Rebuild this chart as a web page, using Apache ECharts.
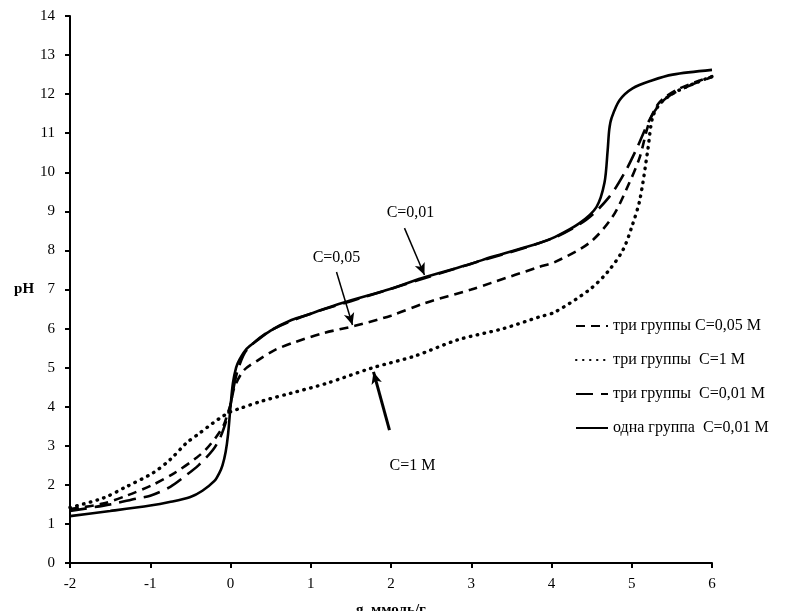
<!DOCTYPE html>
<html><head><meta charset="utf-8">
<script src="https://cdn.jsdelivr.net/npm/echarts@6/dist/echarts.min.js"></script>
<style>html,body{margin:0;padding:0;background:#fff}#c{width:798px;height:611px}</style>
</head><body><div id="c"></div>
<script>
// одна группа C=0,01 М (solid)
const solidX = [-2, -1.5, -1, -0.76, -0.5, -0.35, -0.2, -0.14, -0.1, -0.06, -0.03, 0, 0.03, 0.07, 0.11, 0.2, 0.34, 0.5, 0.76, 1, 1.38, 2, 2.38, 3, 3.25, 3.85, 4.04, 4.35, 4.56, 4.66, 4.70, 4.72, 4.75, 4.85, 5.01, 5.25, 5.51, 6];
const solidY = [1.2, 1.33, 1.47, 1.56, 1.69, 1.85, 2.1, 2.3, 2.5, 2.85, 3.3, 4.0, 4.6, 5.0, 5.2, 5.48, 5.71, 5.95, 6.22, 6.38, 6.65, 7.02, 7.29, 7.66, 7.83, 8.19, 8.34, 8.70, 9.11, 9.73, 10.57, 11.1, 11.4, 11.85, 12.15, 12.35, 12.5, 12.62];
// три группы C=0,01 М (long dash)
const longX = [-2, -1.5, -1.17, -1, -0.75, -0.55, -0.4, -0.22, -0.12, -0.05, 0, 0.05, 0.1, 0.2, 0.5, 1, 1.5, 2, 3, 4, 4.43, 4.72, 4.93, 5.06, 5.25, 5.43, 5.7, 6];
const longY = [1.33, 1.5, 1.65, 1.72, 1.95, 2.25, 2.5, 2.89, 3.25, 3.66, 4.05, 4.6, 5.0, 5.45, 5.95, 6.38, 6.7, 7.02, 7.66, 8.3, 8.78, 9.37, 10.06, 10.6, 11.45, 11.9, 12.2, 12.44];
// три группы C=0,05 М (short dash)
const shortX = [-2, -1.59, -1.3, -0.97, -0.7, -0.42, -0.3, -0.17, -0.08, -0.04, 0, 0.05, 0.17, 0.35, 0.55, 0.8, 1.17, 1.55, 2, 2.42, 3, 3.25, 3.85, 4.04, 4.47, 4.76, 4.97, 5.1, 5.22, 5.35, 5.6, 6];
const shortY = [1.38, 1.52, 1.72, 2.0, 2.3, 2.7, 2.92, 3.25, 3.55, 3.8, 4.05, 4.5, 4.94, 5.2, 5.45, 5.65, 5.89, 6.07, 6.33, 6.65, 7.0, 7.17, 7.58, 7.7, 8.19, 8.86, 9.73, 10.39, 11.3, 11.8, 12.15, 12.45];
// три группы C=1 М (dotted)
const dotX = [-2, -1.59, -1.3, -0.97, -0.75, -0.55, -0.4, -0.22, -0.1, 0, 0.11, 0.4, 0.76, 1.2, 1.76, 2.3, 2.83, 3.4, 3.85, 4.04, 4.47, 4.7, 4.89, 5.0, 5.1, 5.2, 5.26, 5.35, 5.5, 5.75, 6];
const dotY = [1.42, 1.66, 1.95, 2.3, 2.65, 3.07, 3.3, 3.58, 3.75, 3.87, 3.95, 4.15, 4.35, 4.6, 4.99, 5.3, 5.71, 6.0, 6.3, 6.42, 6.99, 7.45, 8.01, 8.6, 9.29, 10.57, 11.41, 11.75, 12.0, 12.25, 12.45];

const seriesNames = ['три группы C=0,05 М', 'три группы  C=1 М', 'три группы  C=0,01 М', 'одна группа  C=0,01 М'];
const xTicks = [-2, -1, 0, 1, 2, 3, 4, 5, 6];
const yTicks = [0, 1, 2, 3, 4, 5, 6, 7, 8, 9, 10, 11, 12, 13, 14];

const annLabels = ['C=0,01', 'C=0,05', 'C=1 М'];
const annLabelPos = [[2.243, 8.96], [1.321, 7.81], [2.268, 2.48]];
const annArrows = [[[2.168, 8.57], [2.417, 7.37]], [[1.321, 7.45], [1.520, 6.09]], [[1.981, 3.40], [1.782, 4.89]]];

const zip = (xs, ys) => xs.map((x, i) => [x, ys[i]]);
const font = 'Liberation Serif';

const chart = echarts.init(document.getElementById('c'), null, {renderer: 'canvas'});
const base = {type: 'line', showSymbol: false, symbol: 'none', smooth: 0.3, animation: false,
  color: '#000', itemStyle: {color: '#000'}};
chart.setOption({
  animation: false,
  backgroundColor: '#fff',
  grid: {left: 70, right: 86, top: 16, bottom: 48, containLabel: false, outerBoundsMode: 'none'},
  xAxis: {
    type: 'value', min: xTicks[0], max: xTicks[xTicks.length - 1], interval: 1,
    name: 'g, ммоль/г', nameLocation: 'middle', nameGap: 40,
    nameTextStyle: {fontFamily: font, fontSize: 15, fontWeight: 'bold', color: '#000'},
    axisLine: {onZero: false, lineStyle: {color: '#000', width: 2}},
    axisTick: {show: true, inside: false, length: 5, lineStyle: {color: '#000', width: 2}},
    axisLabel: {fontFamily: font, fontSize: 15, color: '#000', margin: 14},
    splitLine: {show: false}
  },
  yAxis: {
    type: 'value', min: yTicks[0], max: yTicks[yTicks.length - 1], interval: 1,
    name: 'pH', nameLocation: 'middle', nameGap: 35, nameRotate: 0,
    nameTextStyle: {fontFamily: font, fontSize: 15, fontWeight: 'bold', color: '#000', padding: [4, 0, 0, 0]},
    axisLine: {onZero: false, lineStyle: {color: '#000', width: 2}},
    axisTick: {show: true, inside: false, length: 5, lineStyle: {color: '#000', width: 2}},
    axisLabel: {fontFamily: font, fontSize: 15, color: '#000', margin: 15},
    splitLine: {show: false}
  },
  legend: {
    data: seriesNames, orient: 'vertical', left: 570, top: 313, itemGap: 18,
    itemWidth: 32, itemHeight: 14,
    itemStyle: {opacity: 0},
    textStyle: {fontFamily: font, fontSize: 16, color: '#000'}
  },
  series: [
    Object.assign({}, base, {name: seriesNames[1], data: zip(dotX, dotY), z: 2,
      lineStyle: {color: '#000', width: 3.4, type: [0.5, 6.5], cap: 'round'}}),
    Object.assign({}, base, {name: seriesNames[0], data: zip(shortX, shortY), z: 3,
      lineStyle: {color: '#000', width: 2.6, type: [9, 6]},
      markLine: {silent: true, symbol: ['none', 'arrow'], symbolSize: [8, 12], animation: false,
        label: {show: false},
        lineStyle: {color: '#000', width: 1.5, type: 'solid'},
        data: [
          [{coord: annArrows[0][0]}, {coord: annArrows[0][1]}],
          [{coord: annArrows[1][0]}, {coord: annArrows[1][1]}],
          [{coord: annArrows[2][0], lineStyle: {width: 3}}, {coord: annArrows[2][1]}]
        ]},
      markPoint: {silent: true, symbol: 'rect', symbolSize: 0, animation: false,
        label: {show: true, position: 'inside', fontFamily: font, fontSize: 16, color: '#000',
          formatter: p => p.name},
        data: annLabels.map((t, i) => ({name: t, coord: annLabelPos[i]}))}
    }),
    Object.assign({}, base, {name: seriesNames[2], data: zip(longX, longY), z: 4,
      lineStyle: {color: '#000', width: 2.6, type: [17, 8]}}),
    Object.assign({}, base, {name: seriesNames[3], data: zip(solidX, solidY), z: 5,
      lineStyle: {color: '#000', width: 2.6, type: 'solid'}})
  ]
});
</script></body></html>
